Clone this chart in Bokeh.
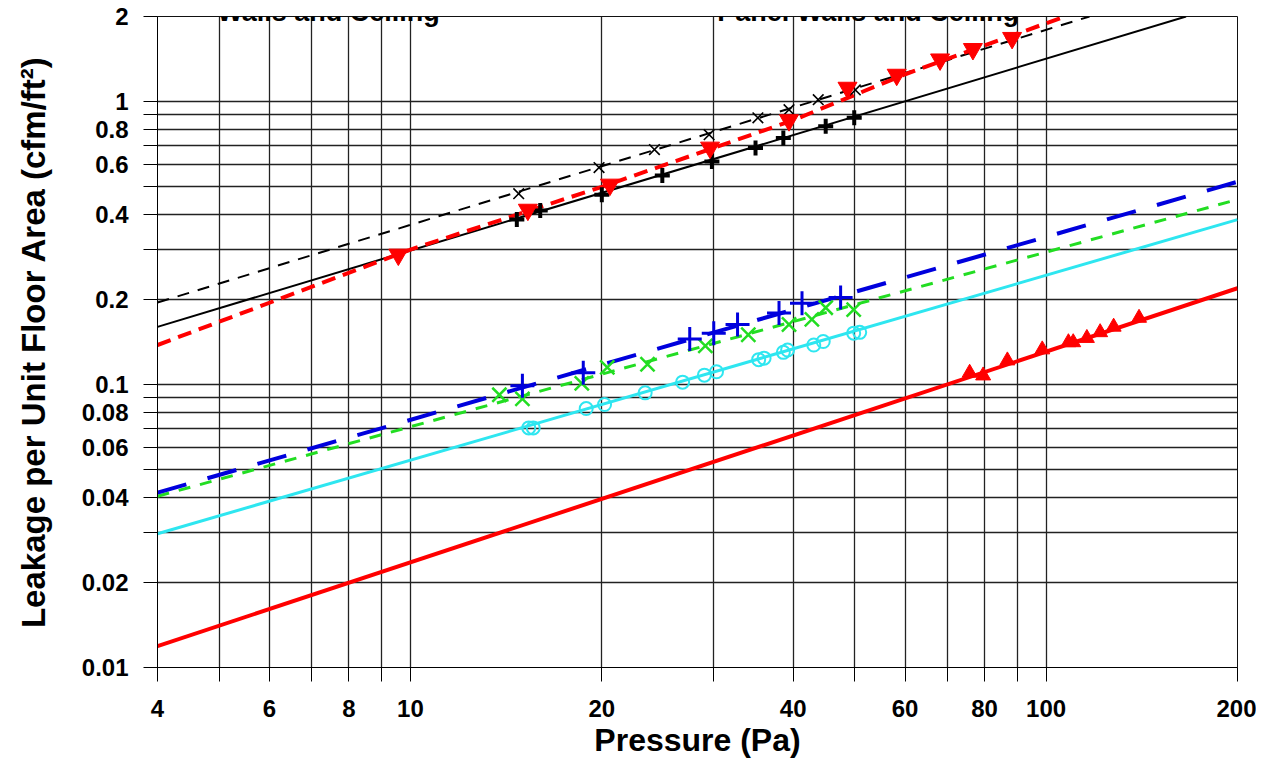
from bokeh.plotting import figure
from bokeh.models import FixedTicker, CustomJSTickFormatter, Label
from bokeh.embed import file_html
from bokeh.resources import INLINE

# Axis ticks
x_major = [4, 6, 8, 10, 20, 40, 60, 80, 100, 200]
x_minor = [5, 7, 9, 30, 50, 70, 90]
y_major = [0.01, 0.02, 0.04, 0.06, 0.08, 0.1, 0.2, 0.4, 0.6, 0.8, 1, 2]
y_minor = [0.03, 0.05, 0.07, 0.09, 0.3, 0.5, 0.7, 0.9]

# Panel titles
titles = ["Walls and Ceiling", "Panel Walls and Ceiling"]
title_x = [7.43, 52.5]

# Series A: black dashed line, x markers
a_line_x = [4, 117]
a_line_y = [0.195, 2.0]
a_pts_x = [14.8, 19.8, 24.2, 29.5, 35.2, 39.4, 43.8, 50.1]
a_pts_y = [0.473, 0.585, 0.677, 0.764, 0.877, 0.937, 1.016, 1.10]

# Series B: black solid line, bold plus markers
b_line_x = [4, 166]
b_line_y = [0.160, 2.0]
b_pts_x = [14.7, 16.0, 20.0, 24.9, 29.8, 34.9, 38.6, 45.0, 49.9]
b_pts_y = [0.383, 0.412, 0.469, 0.548, 0.615, 0.686, 0.744, 0.818, 0.877]

# Series C: red dashed line, inverted triangles
c_line_x = [4, 10, 20, 40, 60, 107]
c_line_y = [0.138, 0.30, 0.50, 0.86, 1.25, 2.0]
c_pts_x = [9.57, 15.3, 20.6, 29.6, 39.4, 48.7, 58.2, 68.1, 76.7, 88.4]
c_pts_y = [0.288, 0.415, 0.509, 0.688, 0.86, 1.12, 1.245, 1.41, 1.535, 1.68]

# Series D: blue long-dashed line, plus markers
d_line_x = [4, 200]
d_line_y = [0.0415, 0.521]
d_pts_x = [15.0, 18.7, 27.5, 30.0, 32.7, 38.0, 41.3, 47.5]
d_pts_y = [0.099, 0.110, 0.145, 0.152, 0.163, 0.179, 0.194, 0.203]

# Series E: green dashed line, x markers
e_line_x = [4, 200]
e_line_y = [0.0403, 0.451]
e_pts_x = [13.8, 15.0, 18.6, 20.4, 23.6, 29.1, 34.0, 39.4, 42.8, 45.0, 49.8]
e_pts_y = [0.092, 0.089, 0.101, 0.115, 0.118, 0.137, 0.150, 0.163, 0.170, 0.187, 0.184]

# Series F: cyan solid line, open circles
f_line_x = [4, 200]
f_line_y = [0.0297, 0.383]
f_pts_x = [15.35, 15.6, 18.9, 20.2, 23.4, 26.8, 29.0, 30.3, 35.3, 36.0, 38.6, 39.2, 43.1, 44.6, 49.8, 50.9]
f_pts_y = [0.0703, 0.0703, 0.0823, 0.085, 0.0935, 0.102, 0.108, 0.111, 0.1225, 0.124, 0.130, 0.1325, 0.138, 0.142, 0.152, 0.153]

# Series G: red solid line, triangles
g_line_x = [4, 200]
g_line_y = [0.0119, 0.219]
g_pts_x = [75.8, 79.6, 86.9, 98.6, 108.4, 110.3, 115.9, 121.6, 127.7, 140]
g_pts_y = [0.110, 0.1076, 0.1216, 0.133, 0.141, 0.141, 0.146, 0.153, 0.160, 0.172]

FONT = "Liberation Sans"

p = figure(width=1256, height=760, x_axis_type="log", y_axis_type="log",
           x_range=(4, 200), y_range=(0.01, 2),
           output_backend="svg", toolbar_location=None,
           min_border_left=157, min_border_right=19, min_border_top=16, min_border_bottom=92,
           x_axis_label="Pressure (Pa)",
           y_axis_label="Leakage per Unit Floor Area (cfm/ft\u00b2)")

p.background_fill_color = "white"
p.border_fill_color = "white"
p.outline_line_color = "#111111"

p.xaxis.ticker = FixedTicker(ticks=x_major, minor_ticks=x_minor)
p.yaxis.ticker = FixedTicker(ticks=y_major, minor_ticks=y_minor)
p.xaxis.formatter = CustomJSTickFormatter(code="return String(tick);")
p.yaxis.formatter = CustomJSTickFormatter(code="return String(tick);")

for ax in (p.xaxis[0], p.yaxis[0]):
    ax.axis_line_color = "black"
    ax.axis_line_width = 1
    ax.major_tick_line_color = "black"
    ax.minor_tick_line_color = "black"
    ax.major_tick_out = 14
    ax.major_tick_in = 0
    ax.minor_tick_out = 14
    ax.minor_tick_in = 0
    ax.major_label_text_font = FONT
    ax.major_label_text_font_style = "bold"
    ax.major_label_text_font_size = "24px"
    ax.major_label_text_color = "black"
    ax.axis_label_text_font = FONT
    ax.axis_label_text_font_style = "bold"
    ax.axis_label_text_color = "black"

p.xaxis.major_label_standoff = 18
p.xaxis.axis_label_standoff = 2
p.xaxis.axis_label_text_font_size = "32px"
p.yaxis.major_label_standoff = 15
p.yaxis.axis_label_standoff = 27
p.yaxis.axis_label_text_font_size = "33px"

for g in (p.xgrid[0], p.ygrid[0]):
    g.grid_line_color = "#222222"
    g.grid_line_width = 1.3
    g.minor_grid_line_color = "#222222"
    g.minor_grid_line_width = 1.3

# Upper group
p.line(a_line_x, a_line_y, line_color="black", line_width=2, line_dash="12 9")
p.line(b_line_x, b_line_y, line_color="black", line_width=2)
p.line(c_line_x, c_line_y, line_color="#FF0000", line_width=4, line_dash="14 8")
p.scatter(a_pts_x, a_pts_y, marker="x", size=15, line_color="black", line_width=1.6)
p.scatter(b_pts_x, b_pts_y, marker="cross", size=15, line_color="black", line_width=4)
p.scatter(c_pts_x, c_pts_y, marker="inverted_triangle", size=19, line_color="#FF0000",
          fill_color="#FF0000", line_width=1)

# Lower group
p.line(e_line_x, e_line_y, line_color="#22DD22", line_width=3, line_dash="12 10")
p.line(d_line_x, d_line_y, line_color="#0000DD", line_width=4, line_dash="30 22")
p.line(f_line_x, f_line_y, line_color="#2EE6F0", line_width=3)
p.line(g_line_x, g_line_y, line_color="#FF0000", line_width=4)
p.scatter(e_pts_x, e_pts_y, marker="x", size=20, line_color="#22DD22", line_width=2.5)
p.scatter(d_pts_x, d_pts_y, marker="cross", size=24, line_color="#0000DD", line_width=3)
p.scatter(f_pts_x, f_pts_y, marker="circle", size=13, line_color="#2EE6F0", fill_color=None,
          line_width=2)
p.scatter(g_pts_x, g_pts_y, marker="triangle", size=15, line_color="#FF0000",
          fill_color="#FF0000", line_width=1)

for t, tx in zip(titles, title_x):
    p.add_layout(Label(x=tx, y=2.07, text=t, text_align="center", text_baseline="alphabetic",
                       text_font=FONT, text_font_style="bold", text_font_size="27px",
                       text_color="black"))

open("out.html", "w").write(file_html(p, INLINE))
